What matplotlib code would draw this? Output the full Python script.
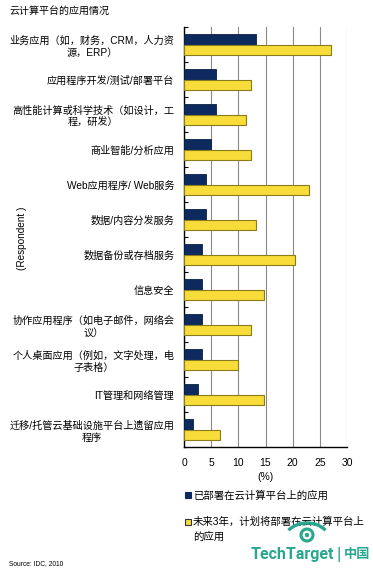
import matplotlib
matplotlib.use("Agg")
import matplotlib.pyplot as plt
from matplotlib.patches import Rectangle, Circle, Arc
import numpy as np

plt.rcParams['font.family'] = ['Liberation Sans', 'Noto Sans CJK SC', 'DejaVu Sans']

title = "云计算平台的应用情况"
categories = [
    "业务应用（如，财务，CRM，人力资\n源，ERP）",
    "应用程序开发/测试/部署平台",
    "高性能计算或科学技术（如设计，工\n程，研发）",
    "商业智能/分析应用",
    "Web应用程序/ Web服务",
    "数据/内容分发服务",
    "数据备份或存档服务",
    "信息安全",
    "协作应用程序（如电子邮件，网络会\n议）",
    "个人桌面应用（例如，文字处理，电\n子表格）",
    "IT管理和网络管理",
    "迁移/托管云基础设施平台上遗留应用\n程序",
]
deployed = [13.2, 5.8, 5.8, 4.9, 4.1, 4.1, 3.4, 3.4, 3.4, 3.4, 2.6, 1.7]
planned = [27.0, 12.3, 11.5, 12.3, 23.0, 13.2, 20.5, 14.8, 12.3, 9.9, 14.8, 6.7]
series_names = ["已部署在云计算平台上的应用", "未来3年，计划将部署在云计算平台上\n的应用"]
xticks = [0, 5, 10, 15, 20, 25, 30]
xlabel = "(%)"
ylabel = "(Respondent )"
source = "Source: IDC, 2010"

navy = "#0c2a5e"
yellow = "#f7dc3a"
yellow_edge = "#8c7c1c"

W, H = 373, 569
fig = plt.figure(figsize=(W / 100, H / 100), dpi=100)
ax = fig.add_axes([184 / W, 1 - 447 / H, (347 - 184) / W, (447 - 27) / H])

y = np.arange(len(categories))
bh = 0.3
ax.barh(y - bh / 2, deployed, height=bh, color=navy, edgecolor="#0a1f45", linewidth=0.6, zorder=3)
ax.barh(y + bh / 2, planned, height=bh, color=yellow, edgecolor=yellow_edge, linewidth=0.8, zorder=3)

ax.set_xlim(0, 30)
ax.set_ylim(len(categories) - 0.5, -0.5)
ax.set_xticks(xticks)
ax.set_xticklabels([str(t) for t in xticks], fontsize=7.5)
ax.tick_params(axis='x', length=0, pad=8)
ax.set_yticks(y)
ax.set_yticklabels(categories, fontsize=7.3, multialignment='center', linespacing=1.3)
ax.tick_params(axis='y', which='major', length=0, pad=7)
ax.set_yticks(np.arange(-0.5, len(categories), 1.0), minor=True)
ax.tick_params(axis='y', which='minor', direction='in', length=3, width=0.8, color='black')

ax.grid(axis='x', color='#8a8a8a', linewidth=0.8, zorder=0)
ax.set_axisbelow(True)
for s in ['top', 'right']:
    ax.spines[s].set_visible(False)
ax.spines['left'].set_linewidth(1.0)
ax.spines['bottom'].set_linewidth(1.0)

fig.text(265 / W, 1 - 477 / H, xlabel, ha='center', va='center', fontsize=7.5)
fig.text(22 / W, 1 - 238 / H, ylabel, ha='center', va='center', rotation=90, fontsize=7.2)
fig.text(9 / W, 1 - 11 / H, title, ha='left', va='center', fontsize=7.2)
fig.text(9 / W, 1 - 564 / H, source, ha='left', va='center', fontsize=4.8)

# legend
for (yy, col, ec, name) in [(495, navy, navy, series_names[0]), (522, yellow, "#333333", series_names[1])]:
    fig.patches.append(Rectangle((185 / W, 1 - (yy + 3.2) / H), 6 / W, 6.4 / H,
                                 transform=fig.transFigure, facecolor=col, edgecolor=ec, linewidth=0.8))
    fig.text(193 / W, 1 - (yy - 5) / H, name, ha='left', va='top', fontsize=7.5, linespacing=1.5)

# TechTarget logo (overlay axes in pixel coordinates)
teal = "#2aa68f"
lax = fig.add_axes([0, 0, 1, 1], zorder=5)
lax.set_xlim(0, W)
lax.set_ylim(H, 0)
lax.axis('off')
lax.patch.set_alpha(0)
lax.text(292, 555, "TechTarget", ha='center', va='center', fontsize=11.5,
         fontweight='bold', color=teal, family=['Roboto'])
lax.text(338.5, 554, "|", ha='center', va='center', fontsize=12, color=teal)
lax.text(357, 554, "中国", ha='center', va='center', fontsize=9.5,
         fontweight='bold', color=teal, family=['Noto Sans CJK SC'])
lax.add_patch(Circle((307, 535), 6.0, facecolor='none', edgecolor=teal, linewidth=2.2))
lax.add_patch(Circle((307, 535), 2.2, facecolor=teal, edgecolor='none'))
lax.add_patch(Arc((307, 541), 46, 36, theta1=210, theta2=330, edgecolor=teal,
                  linewidth=2.4, fill=False))

fig.savefig("out.png", dpi=100)
